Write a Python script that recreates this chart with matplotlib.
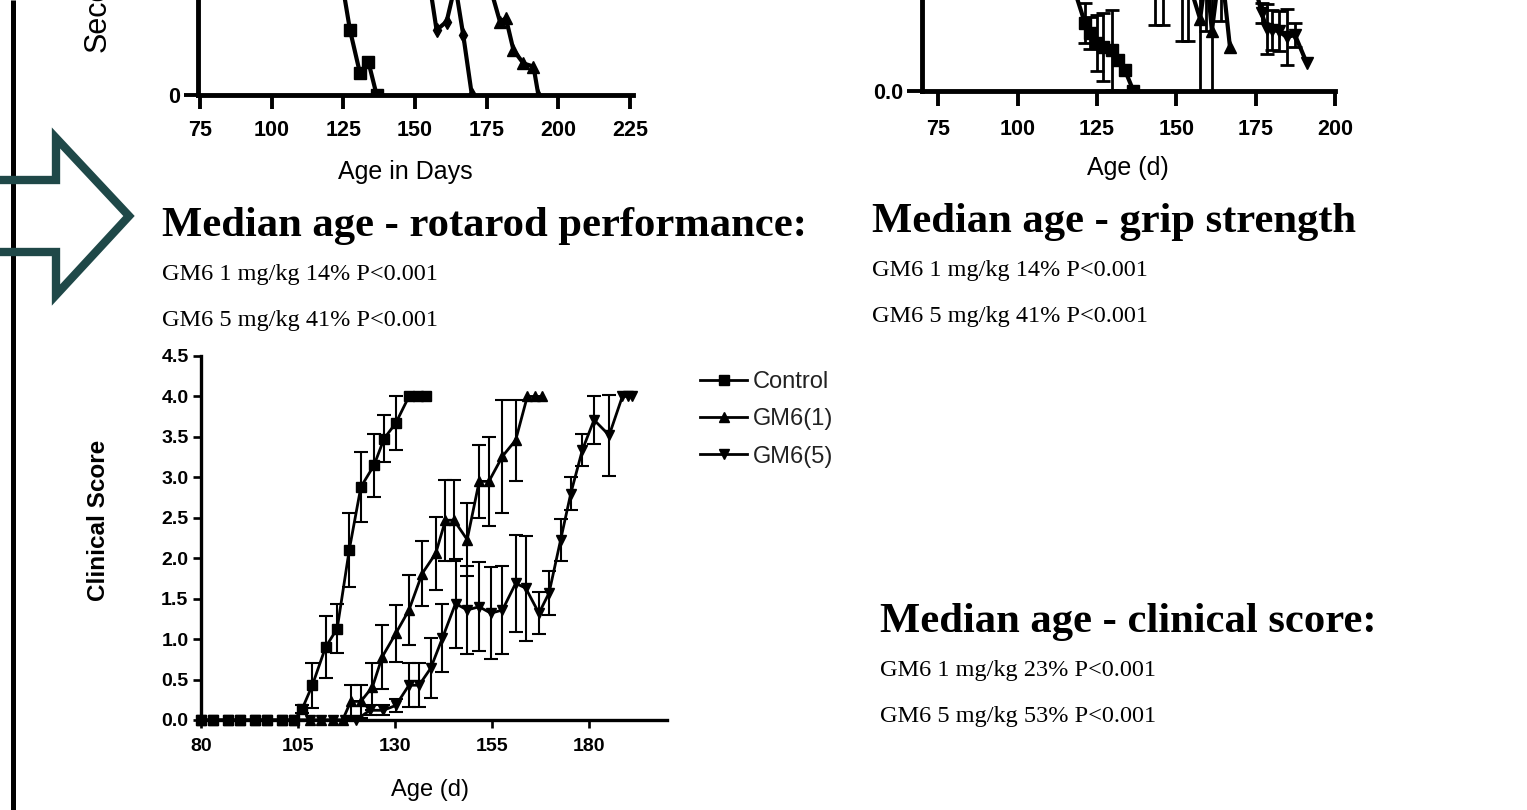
import matplotlib.pyplot as plt
from matplotlib.patches import Polygon

W, H = 1527, 810

# rotarod (top left) - only the bottom strip of this panel is on the slide
rot_ctrl_day = [116, 121, 124, 127.3, 130.8, 133.7, 136.6]
rot_ctrl_sec = [120, 90, 61, 32.5, 10.8, 16.7, 0]
rot_gm1_day = [146, 153, 157.5, 161, 164, 166.8, 169.8]
rot_gm1_sec = [110, 75, 32.5, 36.7, 55, 30, 0]
rot_gm5_day = [165, 172, 179.6, 181.7, 184.3, 187.8, 191.3, 193]
rot_gm5_sec = [110, 75, 36.7, 38.3, 22.5, 15.8, 14.2, 0]
rot_xticks = [75, 100, 125, 150, 175, 200, 225]

# grip strength (top right) - also cropped
grip_ctrl_day = [116, 121.2, 122.8, 124.9, 127, 129.6, 131.7, 133.8, 136.5]
grip_ctrl_val = [0.6, 0.34, 0.29, 0.24, 0.22, 0.205, 0.155, 0.105, 0.0]
grip_ctrl_err = [0.12, 0.1, 0.08, 0.14, 0.17, 0.2, 0.0, 0.0, 0.0]
grip_gm1_day = [138, 143.3, 145.9, 151.7, 153.8, 157.5, 159.5, 161.2, 164, 166.9]
grip_gm1_val = [0.8, 0.62, 0.62, 0.55, 0.55, 0.36, 0.6, 0.3, 0.65, 0.22]
grip_gm1_err = [0.2, 0.29, 0.29, 0.3, 0.3, 0.36, 0.3, 0.3, 0.3, 0.0]
grip_gm5_day = [172, 176.9, 178.5, 180.1, 182.2, 184.8, 187.4, 191.1]
grip_gm5_val = [0.7, 0.39, 0.31, 0.305, 0.3, 0.27, 0.28, 0.14]
grip_gm5_err = [0.2, 0.05, 0.125, 0.1, 0.1, 0.14, 0.06, 0.0]
grip_xticks = [75, 100, 125, 150, 175, 200]

# clinical score (bottom)
cs_ctrl_day = [80, 83, 87, 90, 94, 97, 101, 104, 106.1, 108.7, 112.1, 115.1,
               118.2, 121.2, 124.6, 127.2, 130.2, 133.6, 135.8, 137.9]
cs_ctrl_val = [0, 0, 0, 0, 0, 0, 0, 0, 0.14, 0.43, 0.90, 1.13,
               2.10, 2.88, 3.15, 3.48, 3.67, 4.0, 4.0, 4.0]
cs_ctrl_err = [0, 0, 0, 0, 0, 0, 0, 0, 0.05, 0.28, 0.38, 0.30,
               0.46, 0.43, 0.39, 0.29, 0.33, 0, 0, 0]
cs_gm1_day = [80, 83, 87, 90, 94, 97, 101, 104, 108, 111, 114, 116.5,
              118.6, 121.2, 124.2, 126.7, 130.2, 133.6, 137.0, 140.5, 143.0,
              145.2, 148.6, 151.7, 154.2, 157.7, 161.1, 164.1, 166.0, 168.0]
cs_gm1_val = [0, 0, 0, 0, 0, 0, 0, 0, 0, 0, 0, 0,
              0.23, 0.23, 0.41, 0.78, 1.07, 1.36, 1.81, 2.06, 2.47,
              2.47, 2.23, 2.95, 2.95, 3.26, 3.46, 4.0, 4.0, 4.0]
cs_gm1_err = [0, 0, 0, 0, 0, 0, 0, 0, 0, 0, 0, 0,
              0.2, 0.2, 0.29, 0.4, 0.35, 0.43, 0.4, 0.45, 0.5,
              0.5, 0.45, 0.45, 0.55, 0.7, 0.5, 0, 0, 0]
cs_gm5_day = [80, 83, 87, 90, 94, 97, 101, 104, 108, 111, 114, 117, 120,
              123.5, 127.0, 130.2, 133.6, 136.2, 139.2, 142.2, 145.6, 148.6,
              151.7, 154.7, 157.7, 161.1, 163.7, 167.1, 169.7, 172.7, 175.3,
              178.3, 181.3, 185.2, 188.6, 190.0, 191.2]
cs_gm5_val = [0, 0, 0, 0, 0, 0, 0, 0, 0, 0, 0, 0, 0,
              0.12, 0.12, 0.18, 0.43, 0.43, 0.64, 1.01, 1.44, 1.36,
              1.40, 1.32, 1.36, 1.69, 1.63, 1.32, 1.57, 2.23, 2.80,
              3.34, 3.71, 3.52, 4.0, 4.0, 4.0]
cs_gm5_err = [0, 0, 0, 0, 0, 0, 0, 0, 0, 0, 0, 0, 0,
              0.06, 0.06, 0.08, 0.27, 0.27, 0.37, 0.42, 0.55, 0.55,
              0.55, 0.57, 0.55, 0.6, 0.65, 0.26, 0.27, 0.26, 0.2,
              0.2, 0.3, 0.5, 0, 0, 0]
cs_xticks = [80, 105, 130, 155, 180]
cs_yticks = [0.0, 0.5, 1.0, 1.5, 2.0, 2.5, 3.0, 3.5, 4.0, 4.5]
series_names = ["Control", "GM6(1)", "GM6(5)"]

plt.rcParams['font.family'] = ['Liberation Sans', 'DejaVu Sans']
SERIF = ['Liberation Serif', 'DejaVu Serif']

fig = plt.figure(figsize=(W / 100, H / 100), dpi=100)


def box(left, top, right, bottom):
    # pixel rectangle -> figure fraction
    return [left / W, 1 - bottom / H, (right - left) / W, (bottom - top) / H]


def prism(ax, lw, ticklen, size, pad):
    for s in ['top', 'right']:
        ax.spines[s].set_visible(False)
    for s in ['left', 'bottom']:
        ax.spines[s].set_linewidth(lw)
    ax.tick_params(direction='out', length=ticklen, width=lw * 0.8,
                   labelsize=size, pad=3)
    ax.tick_params(axis='x', pad=pad)
    for lab in ax.get_xticklabels() + ax.get_yticklabels():
        lab.set_fontweight('bold')


def bars(ax, x, y, e, lw, cap):
    keep = [i for i in range(len(x)) if e[i] > 0]
    ax.errorbar([x[i] for i in keep], [y[i] for i in keep],
                yerr=[e[i] for i in keep], fmt='none', ecolor='black',
                elinewidth=lw, capsize=cap, capthick=lw, zorder=2)


# overlay in pixel coordinates for slide decorations and text
ov = fig.add_axes([0, 0, 1, 1])
ov.set_xlim(0, W)
ov.set_ylim(H, 0)
ov.axis('off')
ov.plot([12.5, 12.5], [0, H], color='black', lw=3.6, solid_capstyle='butt', zorder=1)
arrow = Polygon([(-20, 180), (56, 180), (56, 138), (129, 216), (56, 295),
                 (56, 252), (-20, 252)], closed=True, fill=False,
                edgecolor='#1f4848', lw=6, joinstyle='miter', zorder=2)
ov.add_patch(arrow)
# rotarod y label, mostly cut off by the slide edge
ov.text(98, 52, "Seconds", rotation=90, ha='center', va='bottom', fontsize=22)

blocks = [
    (162, 236, "Median age - rotarod performance:",
     ["GM6 1 mg/kg 14% P<0.001", "GM6 5 mg/kg 41% P<0.001"]),
    (872, 232, "Median age - grip strength",
     ["GM6 1 mg/kg 14% P<0.001", "GM6 5 mg/kg 41% P<0.001"]),
    (880, 632, "Median age - clinical score:",
     ["GM6 1 mg/kg 23% P<0.001", "GM6 5 mg/kg 53% P<0.001"]),
]
for x0, y0, head, lines in blocks:
    ov.text(x0, y0, head, family=SERIF, fontweight='bold', fontsize=30.7,
            va='baseline')
    for k, line in enumerate(lines):
        ov.text(x0, y0 + 44 + 46 * k, line, family=SERIF, fontsize=17.5,
                va='baseline')

# top-left: rotarod
ax1 = fig.add_axes(box(198, -305, 633, 95))
ax1.plot(rot_ctrl_day, rot_ctrl_sec, color='black', lw=3, marker='s', ms=8)
ax1.plot(rot_gm1_day, rot_gm1_sec, color='black', lw=3, marker='d', ms=7)
ax1.plot(rot_gm5_day, rot_gm5_sec, color='black', lw=3, marker='^', ms=9)
ax1.set_xlim(74.3, 226)
ax1.set_ylim(0, 200)
ax1.set_xticks(rot_xticks)
ax1.set_yticks([0])
prism(ax1, 3.5, 10, 15.5, 8)
ax1.set_xlabel("Age in Days", fontsize=18)
ax1.xaxis.set_label_coords(0.476, -0.1925)
ax1.xaxis.label.set_va('center')

# top-right: grip strength
ax2 = fig.add_axes(box(922.4, -309, 1335, 91))
bars(ax2, grip_ctrl_day, grip_ctrl_val, grip_ctrl_err, 2, 5)
bars(ax2, grip_gm1_day, grip_gm1_val, grip_gm1_err, 2, 5)
bars(ax2, grip_gm5_day, grip_gm5_val, grip_gm5_err, 2, 5)
ax2.plot(grip_ctrl_day, grip_ctrl_val, color='black', lw=3, marker='s', ms=8)
ax2.plot(grip_gm1_day, grip_gm1_val, color='black', lw=3, marker='^', ms=9)
ax2.plot(grip_gm5_day, grip_gm5_val, color='black', lw=3, marker='v', ms=9)
ax2.set_xlim(70, 200)
ax2.set_ylim(0, 2)
ax2.set_xticks(grip_xticks)
ax2.set_yticks([0])
ax2.set_yticklabels(["0.0"])
prism(ax2, 3.5, 11, 15.5, 9)
ax2.set_xlabel("Age (d)", fontsize=18)
ax2.xaxis.set_label_coords(0.498, -0.1925)
ax2.xaxis.label.set_va('center')

# bottom: clinical score
ax3 = fig.add_axes(box(201, 356, 666.6, 720))
bars(ax3, cs_ctrl_day, cs_ctrl_val, cs_ctrl_err, 1.5, 5)
bars(ax3, cs_gm1_day, cs_gm1_val, cs_gm1_err, 1.5, 5)
bars(ax3, cs_gm5_day, cs_gm5_val, cs_gm5_err, 1.5, 5)
h1, = ax3.plot(cs_ctrl_day, cs_ctrl_val, color='black', lw=2, marker='s', ms=7,
               clip_on=False, zorder=3)
h2, = ax3.plot(cs_gm1_day, cs_gm1_val, color='black', lw=2, marker='^', ms=7,
               clip_on=False, zorder=3)
h3, = ax3.plot(cs_gm5_day, cs_gm5_val, color='black', lw=2, marker='v', ms=7,
               clip_on=False, zorder=3)
ax3.set_xlim(80, 200)
ax3.set_ylim(0, 4.5)
ax3.set_xticks(cs_xticks)
ax3.set_yticks(cs_yticks)
ax3.set_yticklabels([f"{v:.1f}" for v in cs_yticks])
prism(ax3, 2.4, 6, 14, 7)
ax3.set_xlabel("Age (d)", fontsize=17)
ax3.xaxis.set_label_coords(0.492, -0.192)
ax3.xaxis.label.set_va('center')
ax3.set_ylabel("Clinical Score", fontsize=17.5, fontweight='bold')
ax3.yaxis.set_label_coords(-0.221, 0.549)
ax3.yaxis.label.set_va('center')
ax3.legend([h1, h2, h3], series_names, loc='upper left',
           bbox_to_anchor=(700 / W, 1 - 371 / H), bbox_transform=fig.transFigure,
           frameon=False, fontsize=17, handlelength=2.0, handletextpad=0.25,
           labelspacing=0.65, borderaxespad=0, borderpad=0, labelcolor='#222222')

fig.savefig("out.png", dpi=100)
